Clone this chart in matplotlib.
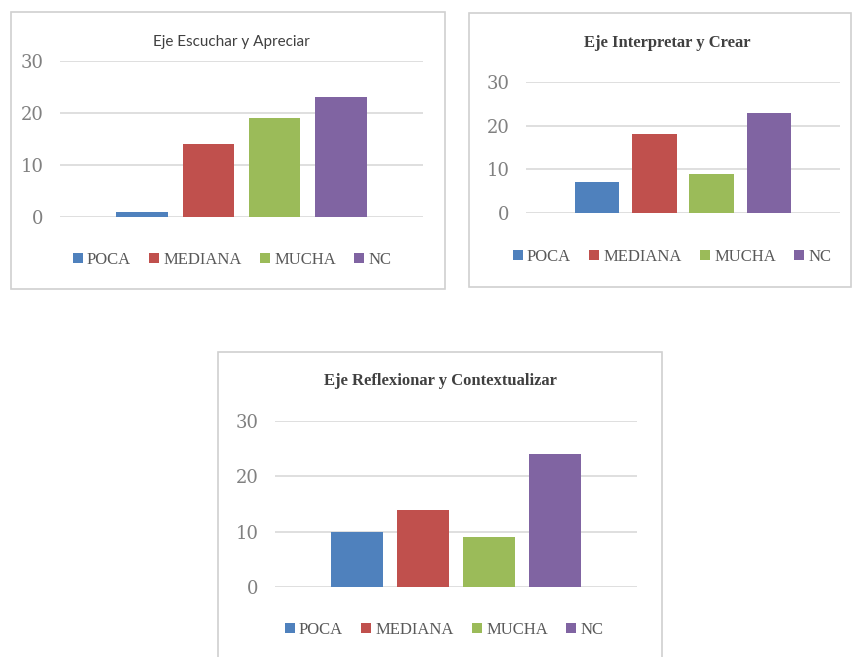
import numpy as np
import matplotlib
matplotlib.use("Agg")
import matplotlib.pyplot as plt
from matplotlib.patches import Rectangle

# --- Datos de las tres gráficas ---
series = ["POCA", "MEDIANA", "MUCHA", "NC"]
colores = ["#4F81BD", "#C0504D", "#9BBB59", "#8064A2"]

titulo_1 = "Eje Escuchar y Apreciar"
valores_1 = [1, 14, 19, 23]

titulo_2 = "Eje Interpretar y Crear"
valores_2 = [7, 18, 9, 23]

titulo_3 = "Eje Reflexionar y Contextualizar"
valores_3 = [10, 14, 9, 24]

yticks = [0, 10, 20, 30]

W, H = 853, 657
fig = plt.figure(figsize=(W / 100, H / 100), dpi=100)


def px_rect(x0, y0, x1, y1):
    # convierte coordenadas de pixel (origen arriba) a fracciones de figura
    return [x0 / W, 1 - y1 / H, (x1 - x0) / W, (y1 - y0) / H]


def grafica(caja, area, titulo, valores, titulo_xy, titulo_font, leyenda_xy):
    # marco gris del gráfico
    bx = px_rect(*caja)
    fig.patches.append(Rectangle((bx[0], bx[1]), bx[2], bx[3], transform=fig.transFigure,
                                 facecolor="none", edgecolor="#D0D0D0", lw=1.2, zorder=-1))

    ax = fig.add_axes(px_rect(*area))
    x = np.arange(len(series))
    barras = []
    for i, (s, v, c) in enumerate(zip(series, valores, colores)):
        b = ax.bar(x[i], v, width=0.78, color=c, label=s, zorder=3)
        barras.append(b)

    ax.set_xlim(-1.24, 4.24)
    ax.set_ylim(0, 30)
    ax.set_yticks(yticks)
    ax.set_xticks([])
    ax.yaxis.grid(True, color="#D9D9D9", lw=1.2, zorder=0)
    ax.set_axisbelow(True)
    for sp in ax.spines.values():
        sp.set_visible(False)
    ax.tick_params(axis="y", length=0, pad=12, labelsize=13, labelcolor="#808080")
    for t in ax.get_yticklabels():
        t.set_fontfamily("DejaVu Serif")
    ax.patch.set_alpha(0)

    fig.text(titulo_xy[0] / W, 1 - titulo_xy[1] / H, titulo, ha="center", va="center",
             color="#404040", **titulo_font)

    fig.legend(handles=barras, labels=series, loc="center",
               bbox_to_anchor=(leyenda_xy[0] / W, 1 - leyenda_xy[1] / H),
               ncol=4, frameon=False, handlelength=0.6, handleheight=0.6,
               handletextpad=0.25, columnspacing=1.1,
               prop={"family": "Liberation Serif", "size": 12}, labelcolor="#595959")


grafica((11, 12, 445, 289), (60, 61, 423, 217), titulo_1, valores_1,
        (231, 42), {"family": "Lato", "size": 11}, (232, 260))

grafica((469, 13, 851, 287), (526, 82, 840, 213), titulo_2, valores_2,
        (667, 43), {"family": "Liberation Serif", "size": 12, "weight": "bold"}, (672, 257))

grafica((218, 352, 662, 670), (275, 421, 637, 587), titulo_3, valores_3,
        (440, 381), {"family": "Liberation Serif", "size": 12, "weight": "bold"}, (444, 630))

fig.savefig("out.png", dpi=100)
